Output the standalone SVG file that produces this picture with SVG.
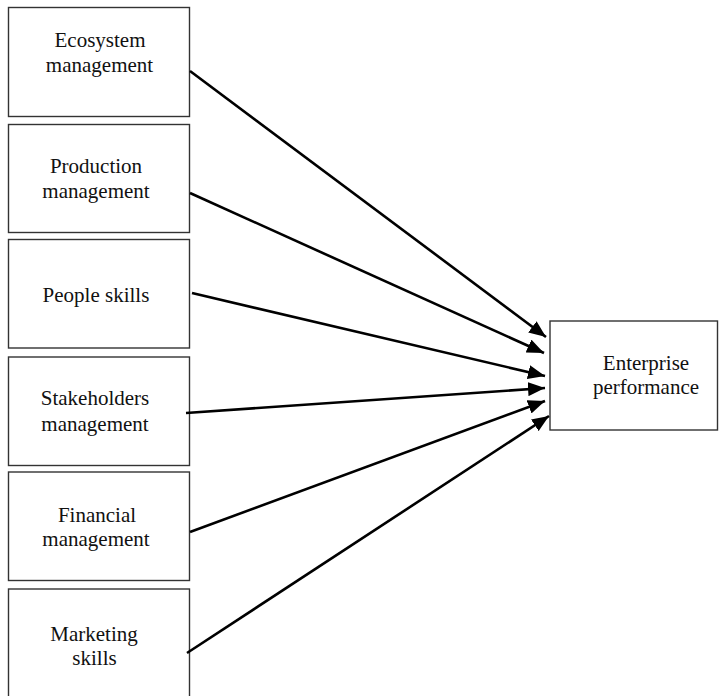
<svg xmlns="http://www.w3.org/2000/svg" width="719" height="696" viewBox="0 0 719 696">
  <style>
    .box { fill: #ffffff; stroke: #333333; stroke-width: 1.4; }
    .label { font-family: "Liberation Serif", "Times New Roman", serif; font-size: 21px; fill: #111111; text-anchor: middle; }
    .link { stroke: #000000; stroke-width: 2.6; fill: none; marker-end: url(#arrow); }
  </style>
  <defs>
    <marker id="arrow" markerUnits="userSpaceOnUse" markerWidth="18" markerHeight="14" viewBox="0 0 18 14" refX="17" refY="7" orient="auto">
      <path d="M0,0 L17,7 L0,14 Z" fill="#000000"/>
    </marker>
  </defs>
  <rect width="719" height="696" fill="#ffffff"/>

  <g id="ecosystem-management">
    <rect class="box" x="8.5" y="7.5" width="181" height="109"/>
    <text class="label" x="100" y="47">Ecosystem</text>
    <text class="label" x="99.5" y="72">management</text>
  </g>
  <g id="production-management">
    <rect class="box" x="8.5" y="124.5" width="181" height="108"/>
    <text class="label" x="96" y="173">Production</text>
    <text class="label" x="96" y="198">management</text>
  </g>
  <g id="people-skills">
    <rect class="box" x="8.5" y="239.5" width="181" height="108.5"/>
    <text class="label" x="96" y="302">People skills</text>
  </g>
  <g id="stakeholders-management">
    <rect class="box" x="8.5" y="357" width="181" height="108.5"/>
    <text class="label" x="95" y="405">Stakeholders</text>
    <text class="label" x="95" y="431">management</text>
  </g>
  <g id="financial-management">
    <rect class="box" x="8.5" y="472" width="181" height="108.5"/>
    <text class="label" x="97" y="522">Financial</text>
    <text class="label" x="96" y="546">management</text>
  </g>
  <g id="marketing-skills">
    <rect class="box" x="8.5" y="589" width="181" height="110"/>
    <text class="label" x="94" y="641">Marketing</text>
    <text class="label" x="94.5" y="665">skills</text>
  </g>
  <g id="enterprise-performance">
    <rect class="box" x="550" y="321" width="167.5" height="109"/>
    <text class="label" x="646" y="370">Enterprise</text>
    <text class="label" x="646" y="394">performance</text>
  </g>

  <g id="connectors">
    <line class="link" x1="190" y1="71" x2="546" y2="337"/>
    <line class="link" x1="190" y1="193" x2="544" y2="353"/>
    <line class="link" x1="192" y1="293" x2="545" y2="376"/>
    <line class="link" x1="186" y1="413" x2="545" y2="388"/>
    <line class="link" x1="190" y1="532" x2="545" y2="401"/>
    <line class="link" x1="187" y1="653" x2="549" y2="416"/>
  </g>
</svg>
